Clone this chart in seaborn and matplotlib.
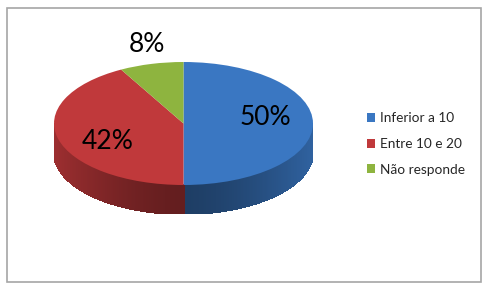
import numpy as np
import matplotlib
matplotlib.use("Agg")
import matplotlib.pyplot as plt
import seaborn as sns
from matplotlib.patches import Rectangle
from matplotlib.collections import PolyCollection
from matplotlib.colors import to_rgb

categories = ["Inferior a 10", "Entre 10 e 20", "Não responde"]
values = [50, 42, 8]
pct_labels = ["50%", "42%", "8%"]
colors = ["#3A77C2", "#C0393B", "#8EB43F"]

sns.set_theme(style="white")
plt.rcParams["font.family"] = ["Lato", "DejaVu Sans"]

W, H = 486, 289
fig = plt.figure(figsize=(W / 100, H / 100), dpi=100)

# pie geometry in pixels
left_px, right_px, top_px, front_px, bottom_px = 54, 313, 62, 185, 214
ry_px = (front_px - top_px) / 2
depth = (bottom_px - front_px) / ry_px

ax = fig.add_axes([left_px / W, 1 - bottom_px / H,
                   (right_px - left_px) / W, (bottom_px - top_px) / H])

def side_color(base, t):
    r, g, b = to_rgb(base)
    f = 0.52 + 0.30 * abs(np.cos(np.radians(t))) ** 1.5
    return (r * f, g * f, b * f)

wedges, _ = ax.pie(values, colors=colors, startangle=90, counterclock=False,
                   wedgeprops=dict(linewidth=0), radius=1, center=(0, 0))

# side of the cylinder from wedge angles
polys, pcols = [], []
for w, c in zip(wedges, colors):
    ts = np.linspace(w.theta1, w.theta2, 240)
    for a, b in zip(ts[:-1], ts[1:]):
        m = (a + b) / 2
        if np.sin(np.radians(m)) > 0:
            continue
        ra, rb = np.radians(a), np.radians(b)
        polys.append([(np.cos(ra), np.sin(ra)), (np.cos(rb), np.sin(rb)),
                      (np.cos(rb), np.sin(rb) - depth),
                      (np.cos(ra), np.sin(ra) - depth)])
        pcols.append(side_color(c, m))
pc = PolyCollection(polys, facecolors=pcols, edgecolors=pcols,
                    linewidths=0.8, antialiaseds=False, zorder=0.5)
ax.add_collection(pc)
for w in wedges:
    w.set_zorder(2)

ax.set_aspect("auto")
ax.set_xlim(-1, 1)
ax.set_ylim(-1 - depth, 1)
ax.axis("off")

# percentage labels
cx_px = (left_px + right_px) / 2
cy_px = (top_px + front_px) / 2
rx_px = (right_px - left_px) / 2
label_pos_px = [(265, 117), (108, 141), (147, 44)]
for txt, (px, py) in zip(pct_labels, label_pos_px):
    ax.text((px - cx_px) / rx_px, (cy_px - py) / ry_px, txt, fontsize=19,
            ha="center", va="center", color="black", zorder=5)

leg = fig.legend(wedges, categories, loc="center left",
                 bbox_to_anchor=(367 / W, 1 - 144 / H), frameon=False,
                 fontsize=9.8, handlelength=0.6, handleheight=0.6,
                 handletextpad=0.35, labelspacing=1.0, borderpad=0,
                 borderaxespad=0)

fig.patches.append(Rectangle((6.5 / W, 1 - 281.5 / H), 474 / W, 274 / H,
                             transform=fig.transFigure, fill=False,
                             edgecolor="#A6A6A6", lw=1.2))

fig.savefig("out.png", dpi=100)
